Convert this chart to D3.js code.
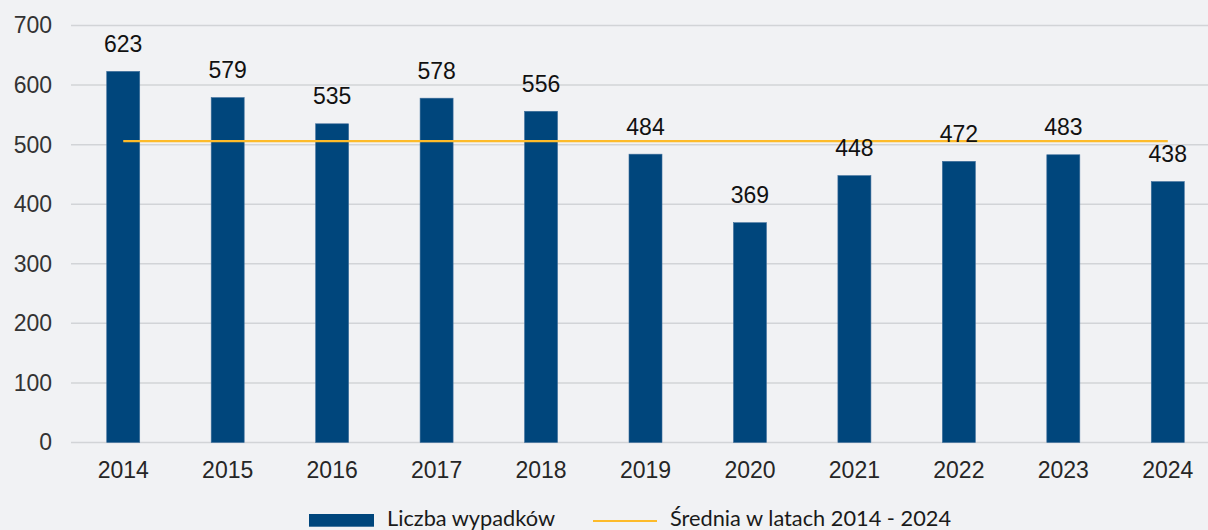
<!DOCTYPE html>
<html>
<head>
<meta charset="utf-8">
<script src="https://cdn.jsdelivr.net/npm/d3@7"></script>
<style>
  html, body { margin: 0; padding: 0; background: #f1f2f4; }
  svg { display: block; }
</style>
</head>
<body>
<svg width="1208" height="530"></svg>
<script>
let years = ['2014', '2015', '2016', '2017', '2018', '2019', '2020', '2021', '2022', '2023', '2024'];
let accidents = [623, 579, 535, 578, 556, 484, 369, 448, 472, 483, 438];
let yTicks = [0, 100, 200, 300, 400, 500, 600, 700];
let legendLabels = ['Liczba wypadków', 'Średnia w latach 2014 - 2024'];

let svg = d3.select('svg'),
    width = + svg.attr('width'),
    height = + svg.attr('height');

let avg = d3.mean(accidents);

let x = d3.scaleBand()
    .domain(years)
    .range([71, 1220])
    .paddingInner(0.684)
    .paddingOuter(0.342);

let y = d3.scaleLinear()
    .domain([0, 700])
    .range([442.5, 25.5]);

// gridlines
svg.append('g')
    .selectAll('line')
    .data(yTicks)
    .enter().append('line')
    .attr('x1', 71)
    .attr('x2', width)
    .attr('y1', function(d) { return y(d); })
    .attr('y2', function(d) { return y(d); })
    .attr('stroke', '#d2d4d7')
    .attr('stroke-width', 1.5);

// y labels
let yAxis = svg.append('g')
    .attr('transform', 'translate(52,0)')
    .call(d3.axisLeft(y).tickValues(yTicks).tickSize(0).tickPadding(0));
yAxis.select('.domain').remove();
yAxis.selectAll('text')
    .attr('font-family', 'Liberation Sans, Arial, sans-serif')
    .attr('font-size', '23px')
    .attr('fill', '#333');

// x labels
let xAxis = svg.append('g')
    .attr('transform', 'translate(0,' + 443 + ')')
    .call(d3.axisBottom(x).tickSize(0).tickPadding(19));
xAxis.select('.domain').remove();
xAxis.selectAll('text')
    .attr('font-family', 'Liberation Sans, Arial, sans-serif')
    .attr('font-size', '23px')
    .attr('fill', '#262626');

// bars
svg.append('g')
    .selectAll('rect')
    .data(accidents)
    .enter().append('rect')
    .attr('x', function(d, i) { return x(years[i]); })
    .attr('y', function(d) { return y(d); })
    .attr('width', x.bandwidth())
    .attr('height', function(d) { return y(0) - y(d); })
    .attr('fill', '#00467c')
    .attr('stroke', '#3f6f9c')
    .attr('stroke-width', 0.6);

// average line
svg.append('line')
    .attr('x1', x(years[0]) + x.bandwidth() / 2)
    .attr('x2', x(years[years.length - 1]) + x.bandwidth() / 2)
    .attr('y1', y(avg))
    .attr('y2', y(avg))
    .attr('stroke', '#fdbb2a')
    .attr('stroke-width', 2.2);

// value labels
svg.append('g')
    .selectAll('text')
    .data(accidents)
    .enter().append('text')
    .attr('x', function(d, i) { return x(years[i]) + x.bandwidth() / 2; })
    .attr('y', function(d) { return y(d) - 19.5; })
    .attr('text-anchor', 'middle')
    .attr('font-family', 'Liberation Sans, Arial, sans-serif')
    .attr('font-size', '23px')
    .attr('fill', '#111')
    .text(function(d) { return d; });

// legend (Calibri-like, so a humanist face)
let legend = svg.append('g')
    .attr('font-family', 'Lato, Open Sans, sans-serif')
    .attr('font-size', '21px')
    .attr('fill', '#1a1a1a');
legend.append('rect')
    .attr('x', 309).attr('y', 514)
    .attr('width', 65).attr('height', 12.7)
    .attr('fill', '#00467c');
legend.append('text')
    .attr('x', 387).attr('y', 526)
    .attr('textLength', 168)
    .attr('lengthAdjust', 'spacingAndGlyphs')
    .text(legendLabels[0]);
legend.append('line')
    .attr('x1', 593).attr('x2', 657)
    .attr('y1', 521).attr('y2', 521)
    .attr('stroke', '#fdbb2a')
    .attr('stroke-width', 2.2);
legend.append('text')
    .attr('x', 670).attr('y', 526)
    .attr('textLength', 281)
    .attr('lengthAdjust', 'spacingAndGlyphs')
    .text(legendLabels[1]);
</script>
</body>
</html>
